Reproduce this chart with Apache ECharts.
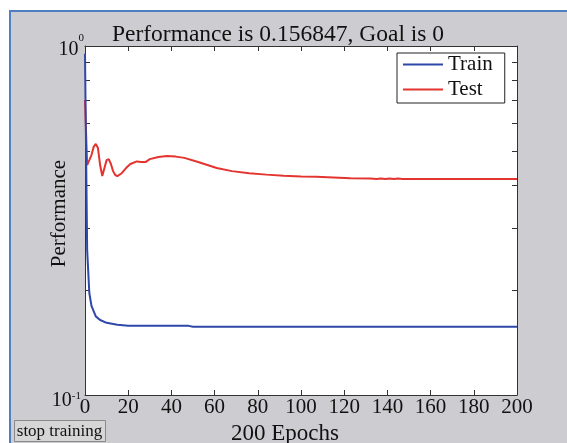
<!DOCTYPE html>
<html style="height: 100%">
<head>
<meta charset="utf-8">
<script src="https://cdn.jsdelivr.net/npm/echarts@6/dist/echarts.min.js"></script>
</head>
<body style="height: 100%; margin: 0; width: 100%; background: #fff;">
<div style="position:absolute; left:9px; top:10px; right:0; bottom:0; background:#cdcdd1; border-left:2px solid #4f7fc2; border-top:2px solid #4f7fc2;"></div>
<div style="position:absolute; left:85px; top:46px; width:432px; height:349px; background:#fff;"></div>
<div id="container" style="position:absolute; left:0; top:0; width:567px; height:443px;"></div>
<script type="text/javascript">
// training record
var trainEpochs = [0, 1, 2, 3, 4, 5, 7, 10, 15, 20, 30, 48, 50, 200];
var trainPerf = [0.95, 0.26, 0.196, 0.18, 0.174, 0.168, 0.164, 0.161, 0.159, 0.158, 0.1578, 0.1578, 0.1568, 0.156847];

var testEpochs = [0, 1, 2, 3, 4, 5, 6, 7, 8, 9, 10, 11, 12, 13, 14, 15, 17, 19, 21, 24, 26, 28, 30, 34, 38, 42, 46, 52, 61, 68, 76, 84, 92, 100, 107, 115, 123, 132, 135, 137, 139, 141, 143, 145, 147, 150, 200];
var testPerf = [0.70, 0.456, 0.471, 0.487, 0.514, 0.524, 0.510, 0.456, 0.424, 0.447, 0.471, 0.474, 0.459, 0.438, 0.427, 0.424, 0.432, 0.447, 0.459, 0.467, 0.465, 0.465, 0.474, 0.481, 0.484, 0.482, 0.478, 0.466, 0.447, 0.438, 0.432, 0.428, 0.425, 0.423, 0.422, 0.420, 0.418, 0.4175, 0.4160, 0.4175, 0.4160, 0.4175, 0.4160, 0.4175, 0.4160, 0.4158, 0.4158];

var xTicks = [0, 20, 40, 60, 80, 100, 120, 140, 160, 180, 200];
var yMinor = [0.1, 0.2, 0.3, 0.4, 0.5, 0.6, 0.7, 0.8, 0.9, 1];
var yLabels = [0.1, 1];

function pairs(xs, ys) {
    return xs.map(function (x, i) { return [x, ys[i]]; });
}

var serif = 'Liberation Serif';
var myChart = echarts.init(document.getElementById('container'));

// 10^0 at top, 10^-1 at bottom, with raised exponent
var yTickFmt = function (v) {
    return v > 0.5 ? '{b|10}{s|0}' : '{c|10}{t|-1}';
};

function ticks(vals) {
    return {show: true, inside: true, length: 5, customValues: vals, lineStyle: {color: '#333', width: 1}};
}

option = {
    backgroundColor: 'transparent',
    animation: false,
    textStyle: {fontFamily: serif, color: '#111'},
    title: {
        text: 'Performance is 0.156847, Goal is 0',
        left: 273,
        textAlign: 'center',
        top: 18,
        textStyle: {fontFamily: serif, fontSize: 23.5, fontWeight: 'normal', color: '#111'}
    },
    legend: {
        orient: 'vertical',
        left: 397,
        top: 53,
        padding: [1, 12, 3, 6],
        itemGap: 4,
        itemWidth: 40,
        itemHeight: 2,
        icon: 'rect',
        backgroundColor: '#fff',
        borderColor: '#222',
        borderWidth: 1,
        borderRadius: 0,
        textStyle: {fontFamily: serif, fontSize: 21, lineHeight: 20, color: '#111'},
        data: ['Train', 'Test']
    },
    grid: {
        left: 85, right: 50, top: 46, bottom: 48,
        show: false,
        outerBoundsMode: 'none'
    },
    xAxis: [{
        type: 'value', min: 0, max: 200, interval: 20,
        name: '200 Epochs', nameLocation: 'middle', nameGap: 27, nameMoveOverlap: false,
        nameTextStyle: {fontFamily: serif, fontSize: 23, color: '#111', padding: [0, 32, 0, 0]},
        axisLine: {show: true, onZero: false, lineStyle: {color: '#333', width: 1}},
        axisTick: ticks(xTicks),
        axisLabel: {fontFamily: serif, fontSize: 21, color: '#111', margin: 2, customValues: xTicks},
        splitLine: {show: false}
    }, {
        type: 'value', min: 0, max: 200, interval: 20, position: 'top',
        axisLine: {show: true, onZero: false, lineStyle: {color: '#333', width: 1}},
        axisTick: ticks(xTicks),
        axisLabel: {show: false},
        splitLine: {show: false}
    }],
    yAxis: [{
        type: 'log', logBase: 10, min: 0.1, max: 1,
        name: 'Performance', nameLocation: 'middle', nameGap: 15, nameMoveOverlap: false,
        nameTextStyle: {fontFamily: serif, fontSize: 21, color: '#111', padding: [0, 0, 0, 14]},
        axisLine: {show: true, onZero: false, lineStyle: {color: '#333', width: 1}},
        axisTick: ticks(yMinor),
        axisLabel: {
            margin: 1,
            customValues: yLabels,
            formatter: yTickFmt,
            rich: {
                b: {fontFamily: serif, fontSize: 20, color: '#111', verticalAlign: 'bottom'},
                s: {fontFamily: serif, fontSize: 11, color: '#111', verticalAlign: 'top', padding: [0, 0, 16, 0]},
                c: {fontFamily: serif, fontSize: 20, color: '#111', verticalAlign: 'bottom', padding: [12, 0, 0, 0]},
                t: {fontFamily: serif, fontSize: 11, color: '#111', verticalAlign: 'top', padding: [12, 3, 0, 0]}
            }
        },
        splitLine: {show: false}
    }, {
        type: 'log', logBase: 10, min: 0.1, max: 1, position: 'right',
        axisLine: {show: true, onZero: false, lineStyle: {color: '#333', width: 1}},
        axisTick: ticks(yMinor),
        axisLabel: {show: false},
        splitLine: {show: false}
    }],
    series: [{
        name: 'Test', type: 'line', symbol: 'none',
        lineStyle: {color: '#e3342f', width: 2},
        itemStyle: {color: '#e3342f'},
        data: pairs(testEpochs, testPerf)
    }, {
        name: 'Train', type: 'line', symbol: 'none',
        lineStyle: {color: '#2f47a8', width: 2},
        itemStyle: {color: '#2f47a8'},
        data: pairs(trainEpochs, trainPerf)
    }],
    graphic: [{
        type: 'group', left: 14, top: 420,
        children: [{
            type: 'rect', shape: {x: 0, y: 0, width: 91, height: 21},
            style: {fill: '#d6d6d6', stroke: '#8a8a8a', lineWidth: 1}
        }, {
            type: 'text', x: 45, y: 11,
            style: {text: 'stop training', fontFamily: serif, fontSize: 17, fill: '#111', align: 'center', verticalAlign: 'middle'}
        }]
    }]
};

myChart.setOption(option, true);
</script>
</body>
</html>
